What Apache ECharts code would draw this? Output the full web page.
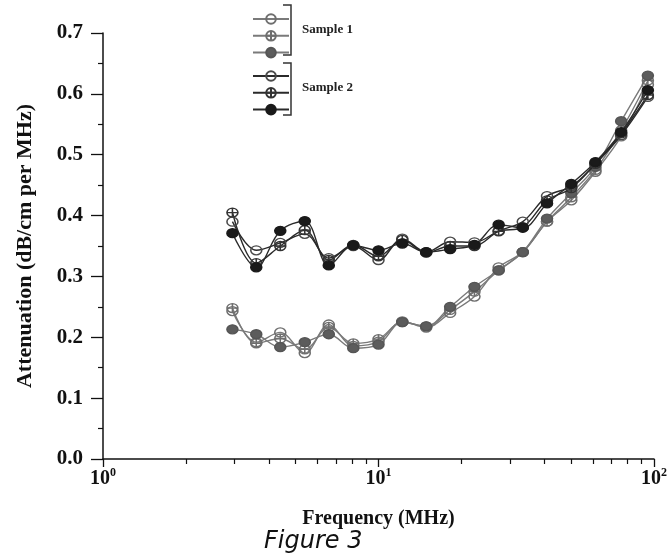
<!DOCTYPE html>
<html>
<head>
<meta charset="utf-8">
<script src="https://cdn.jsdelivr.net/npm/echarts@6/dist/echarts.min.js"></script>
<style>html,body{margin:0;padding:0;background:#fff;}#c{width:670px;height:560px;}</style>
</head>
<body>
<div id="c"></div>
<script>
// Frequencies (MHz)
var freqMHz = [2.95, 3.6, 4.4, 5.4, 6.6, 8.1, 10, 12.2, 14.9, 18.2, 22.3, 27.3, 33.4, 40.9, 50.1, 61.3, 76, 95];
// Sample 1 (gray)
var s1Open   = [0.243,0.192,0.208,0.174,0.221,0.186,0.193,0.226,0.216,0.240,0.267,0.315,0.340,0.390,0.425,0.472,0.530,0.615];
var s1Cross  = [0.248,0.190,0.198,0.180,0.217,0.190,0.197,0.225,0.218,0.245,0.275,0.310,0.340,0.390,0.430,0.475,0.540,0.622];
var s1Filled = [0.213,0.205,0.184,0.192,0.205,0.182,0.188,0.225,0.218,0.250,0.283,0.310,0.340,0.395,0.437,0.480,0.555,0.630];
// Sample 2 (black)
var s2Open   = [0.390,0.343,0.355,0.370,0.330,0.350,0.327,0.362,0.340,0.357,0.356,0.375,0.390,0.432,0.448,0.485,0.532,0.595];
var s2Cross  = [0.405,0.322,0.350,0.376,0.327,0.352,0.333,0.360,0.339,0.350,0.350,0.374,0.381,0.425,0.445,0.485,0.535,0.598];
var s2Filled = [0.371,0.315,0.375,0.391,0.318,0.351,0.343,0.354,0.340,0.345,0.352,0.385,0.380,0.420,0.452,0.488,0.537,0.606];

var yTicks = [0, 0.1, 0.2, 0.3, 0.4, 0.5, 0.6, 0.7];
var xMinorTicks = [2,3,4,5,6,7,8,9,20,30,40,50,60,70,80,90];

var SERIF = '"Liberation Serif", "Times New Roman", serif';
var CIRCLE = 'path://M0,10 A10,10 0 1,1 20,10 A10,10 0 1,1 0,10 Z';
var CROSS = 'path://M0,10 A10,10 0 1,1 20,10 A10,10 0 1,1 0,10 Z M0,10 L20,10 M10,0 L10,20';

function pairs(arr) { return arr.map(function (v, i) { return [freqMHz[i], v]; }); }

function mk(name, arr, symbol, lineColor, fill, border, z) {
  return {
    name: name, type: 'line', data: pairs(arr), smooth: 0.35,
    symbol: symbol, symbolSize: [11, 9], symbolKeepAspect: false, z: z,
    lineStyle: { color: lineColor, width: 1.4 },
    itemStyle: { color: fill, borderColor: border, borderWidth: 1.4 },
    emphasis: { disabled: true }
  };
}

var chart = echarts.init(document.getElementById('c'), null, { renderer: 'canvas' });
chart.setOption({
  animation: false,
  backgroundColor: '#fff',
  grid: { left: 103, right: 14, top: 33, bottom: 101, containLabel: false },
  xAxis: [{
    type: 'log', logBase: 10, min: 1, max: 100,
    name: 'Frequency (MHz)', nameLocation: 'middle', nameGap: 50,
    nameTextStyle: { fontFamily: SERIF, fontWeight: 'bold', fontSize: 20, color: '#111' },
    axisLine: { lineStyle: { color: '#111', width: 1.5 } },
    axisTick: { length: 8, lineStyle: { color: '#111', width: 1.3 } },
    splitLine: { show: false },
    axisLabel: {
      margin: 8, color: '#111',
      formatter: function (v) { return '{b|10}{s|' + Math.round(Math.log10(v)) + '}'; },
      rich: {
        b: { fontFamily: SERIF, fontWeight: 'bold', fontSize: 20, lineHeight: 22, verticalAlign: 'bottom' },
        s: { fontFamily: SERIF, fontWeight: 'bold', fontSize: 12, lineHeight: 12, verticalAlign: 'top' }
      }
    }
  }, {
    type: 'log', logBase: 10, min: 1, max: 100, position: 'bottom',
    axisLine: { show: false },
    axisLabel: { show: false },
    splitLine: { show: false },
    axisTick: { show: true, customValues: xMinorTicks, length: 5, lineStyle: { color: '#111', width: 1.2 } }
  }],
  yAxis: {
    type: 'value', min: 0, max: 0.7, interval: 0.1,
    name: 'Attenuation (dB/cm per MHz)', nameLocation: 'middle', nameGap: 67, nameRotate: 90,
    nameTextStyle: { fontFamily: SERIF, fontWeight: 'bold', fontSize: 22, color: '#111' },
    axisLine: { show: true, lineStyle: { color: '#111', width: 1.5 } },
    axisTick: { show: true, length: 12, lineStyle: { color: '#111', width: 1.3 } },
    minorTick: { show: true, splitNumber: 2, length: 5, lineStyle: { color: '#111', width: 1.2 } },
    splitLine: { show: false },
    axisLabel: {
      margin: 20, color: '#111', fontFamily: SERIF, fontWeight: 'bold', fontSize: 21,
      customValues: yTicks,
      formatter: function (v) { return v.toFixed(1); }
    }
  },
  legend: [{
    data: ['S1 open', 'S1 cross', 'S1 filled'], orient: 'vertical', left: 247, top: 8,
    itemWidth: 36, itemHeight: 12, itemGap: 5, selectedMode: false,
    formatter: function () { return ''; }, textStyle: { fontSize: 1 }
  }, {
    data: ['S2 open', 'S2 cross', 'S2 filled'], orient: 'vertical', left: 247, top: 65,
    itemWidth: 36, itemHeight: 12, itemGap: 5, selectedMode: false,
    formatter: function () { return ''; }, textStyle: { fontSize: 1 }
  }],
  graphic: [
    { type: 'polyline', shape: { points: [[283, 5], [291, 5], [291, 55], [283, 55]] }, style: { stroke: '#333', lineWidth: 1.5, fill: null } },
    { type: 'polyline', shape: { points: [[283, 63], [291, 63], [291, 115], [283, 115]] }, style: { stroke: '#333', lineWidth: 1.5, fill: null } },
    { type: 'text', left: 302, top: 23, style: { text: 'Sample 1', font: 'bold 13px ' + SERIF, fill: '#222' } },
    { type: 'text', left: 302, top: 81, style: { text: 'Sample 2', font: 'bold 13px ' + SERIF, fill: '#222' } },
    { type: 'text', left: 264, top: 530, style: { text: 'Figure 3', font: 'italic 24px "DejaVu Sans", Verdana, sans-serif', fill: '#111' } }
  ],
  series: [
    mk('S1 open',   s1Open,   CIRCLE, '#7a7a7a', 'rgba(0,0,0,0)', '#6e6e6e', 2),
    mk('S1 cross',  s1Cross,  CROSS,  '#7a7a7a', 'rgba(0,0,0,0)', '#6e6e6e', 2),
    mk('S1 filled', s1Filled, 'circle', '#7a7a7a', '#5c5c5c', '#555', 2),
    mk('S2 open',   s2Open,   CIRCLE, '#2a2a2a', 'rgba(0,0,0,0)', '#4a4a4a', 3),
    mk('S2 cross',  s2Cross,  CROSS,  '#2a2a2a', 'rgba(0,0,0,0)', '#333', 3),
    mk('S2 filled', s2Filled, 'circle', '#2a2a2a', '#1a1a1a', '#1a1a1a', 3)
  ]
});
</script>
</body>
</html>
